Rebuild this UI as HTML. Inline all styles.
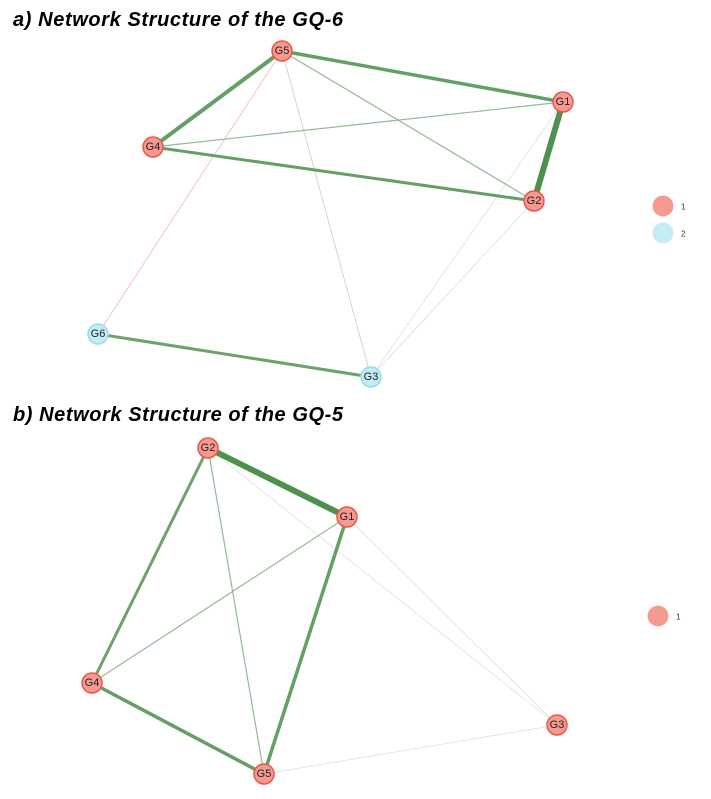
<!DOCTYPE html>
<html><head><meta charset="utf-8"><style>
body{margin:0;background:#fff;width:711px;height:799px;overflow:hidden}
svg{display:block}
.t{font-family:"Liberation Sans",sans-serif;font-weight:bold;font-style:italic;font-size:20px;fill:#000}
.n{font-family:"Liberation Sans",sans-serif;font-size:11px;fill:#222;text-anchor:middle;dominant-baseline:central}
.l{font-family:"Liberation Sans",sans-serif;font-size:8px;fill:#333;dominant-baseline:central}
</style></head><body>
<svg width="711" height="799" viewBox="0 0 711 799">
<text class="t" x="13" y="26" textLength="330">a) Network Structure of the GQ-6</text>
<text class="t" x="13" y="421" textLength="330">b) Network Structure of the GQ-5</text>
<g stroke-linecap="round">
<!-- a edges -->
<line x1="282" y1="51" x2="98" y2="334" stroke="#f4b6c0" stroke-width="0.8"/>
<line x1="282" y1="51" x2="371" y2="377" stroke="#c8d4c8" stroke-width="0.9"/>
<line x1="563" y1="102" x2="371" y2="377" stroke="#d8dcd8" stroke-width="0.7"/>
<line x1="534" y1="201" x2="371" y2="377" stroke="#d8dcd8" stroke-width="0.7"/>
<line x1="153" y1="147" x2="563" y2="102" stroke="#93bb93" stroke-width="1.2"/>
<line x1="282" y1="51" x2="534" y2="201" stroke="#93bb93" stroke-width="1.2"/>
<line x1="282" y1="51" x2="153" y2="147" stroke="#64a064" stroke-width="4"/>
<line x1="282" y1="51" x2="563" y2="102" stroke="#64a064" stroke-width="3.5"/>
<line x1="153" y1="147" x2="534" y2="201" stroke="#64a064" stroke-width="3"/>
<line x1="98" y1="334" x2="371" y2="377" stroke="#6aa46a" stroke-width="3"/>
<line x1="563" y1="102" x2="534" y2="201" stroke="#4e904e" stroke-width="6"/>
<!-- b edges -->
<line x1="208" y1="448" x2="557" y2="725" stroke="#d8dcd8" stroke-width="0.7"/>
<line x1="347" y1="517" x2="557" y2="725" stroke="#d8dcd8" stroke-width="0.7"/>
<line x1="264" y1="774" x2="557" y2="725" stroke="#d8dcd8" stroke-width="0.7"/>
<line x1="347" y1="517" x2="92" y2="683" stroke="#93bb93" stroke-width="1.2"/>
<line x1="208" y1="448" x2="264" y2="774" stroke="#93bb93" stroke-width="1.2"/>
<line x1="208" y1="448" x2="92" y2="683" stroke="#6aa46a" stroke-width="3"/>
<line x1="347" y1="517" x2="264" y2="774" stroke="#64a064" stroke-width="3.5"/>
<line x1="92" y1="683" x2="264" y2="774" stroke="#64a064" stroke-width="3.5"/>
<line x1="208" y1="448" x2="347" y2="517" stroke="#4e904e" stroke-width="6"/>
</g>
<g stroke-width="1.5">
<g fill="#f59a90" stroke="#ee5548">
<circle cx="282" cy="51" r="10"/><circle cx="563" cy="102" r="10"/><circle cx="153" cy="147" r="10"/><circle cx="534" cy="201" r="10"/>
<circle cx="208" cy="448" r="10"/><circle cx="347" cy="517" r="10"/><circle cx="92" cy="683" r="10"/><circle cx="557" cy="725" r="10"/><circle cx="264" cy="774" r="10"/>
</g>
<g fill="#c4ecf4" stroke="#96dcec">
<circle cx="98" cy="334" r="10"/><circle cx="371" cy="377" r="10"/>
</g>
</g>
<text class="n" x="282" y="51">G5</text><text class="n" x="563" y="102">G1</text><text class="n" x="153" y="147">G4</text><text class="n" x="534" y="201">G2</text>
<text class="n" x="98" y="334">G6</text><text class="n" x="371" y="377">G3</text>
<text class="n" x="208" y="448">G2</text><text class="n" x="347" y="517">G1</text><text class="n" x="92" y="683">G4</text><text class="n" x="557" y="725">G3</text><text class="n" x="264" y="774">G5</text>
<circle cx="663" cy="206" r="10" fill="#f59a90" stroke="#f5a098"/>
<circle cx="663" cy="233" r="10" fill="#c4ecf4" stroke="#c8ecf4"/>
<circle cx="658" cy="616" r="10" fill="#f59a90" stroke="#f5a098"/>
<text class="l" x="681" y="207">1</text><text class="l" x="681" y="234">2</text><text class="l" x="676" y="617">1</text>
</svg>
</body></html>
